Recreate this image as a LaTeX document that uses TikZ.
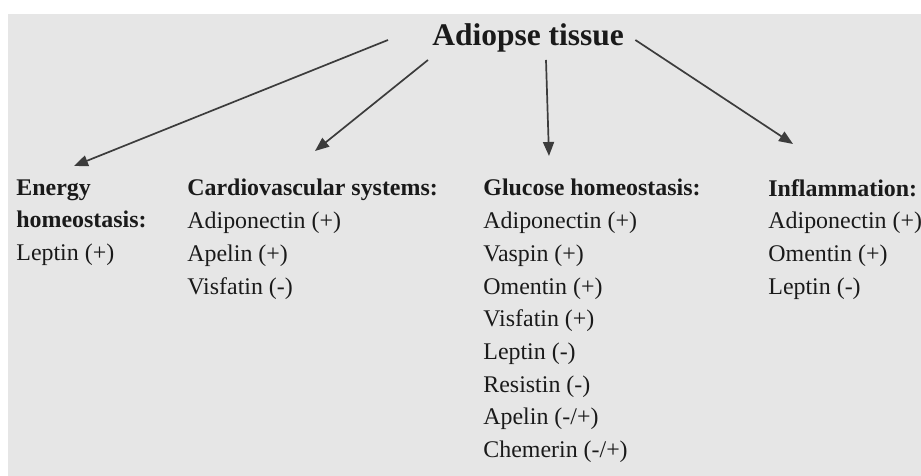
\documentclass[tikz,border=0pt]{standalone}
\usepackage{fontspec}
\setmainfont{Liberation Serif}
\usepackage{tikz}
\usetikzlibrary{arrows.meta, positioning, calc}
\usepackage{xcolor}
\definecolor{Paper}{HTML}{E6E6E6}
\definecolor{Ink}{HTML}{1A1A1A}
\definecolor{Shaft}{HTML}{3C3C3C}

\begin{document}
\begin{tikzpicture}[x=0.5bp, y=0.5bp,
  col/.style={anchor=north west, align=left, inner sep=0pt, text=Ink,
    font=\fontsize{12}{16.4}\selectfont},
  arr/.style={-{Triangle[length=7bp, width=5.5bp]}, line width=0.85bp, Shaft}]
  \useasboundingbox (0,0) rectangle (921,476);
  \fill[Paper] (8,0) rectangle (921,462);

  \node[anchor=base west, inner sep=0pt, text=Ink,
    font=\fontsize{15.8}{19}\selectfont\bfseries] (adipose) at (432,430) {Adiopse tissue};

  \node[col] (energy) at (16,297) {\textbf{Energy}\\\textbf{homeostasis:}\\Leptin (+)};
  \node[col] (cardio) at (187,297) {\textbf{Cardiovascular systems:}\\Adiponectin (+)\\
    Apelin (+)\\Visfatin (-)};
  \node[col] (glucose) at (483,297) {\textbf{Glucose homeostasis:}\\Adiponectin (+)\\
    Vaspin (+)\\Omentin (+)\\Visfatin (+)\\Leptin (-)\\Resistin (-)\\Apelin (-/+)\\
    Chemerin (-/+)};
  \node[col] (inflam) at (768,297) {\textbf{Inflammation:}\\Adiponectin (+)\\
    Omentin (+)\\Leptin (-)};

  \draw[arr] ($(adipose.base west)+(-44,6)$) -- ($(energy.north west)+(58,13)$);
  \draw[arr] ($(adipose.base west)+(-4,-14)$) -- ($(cardio.north west)+(128,28)$);
  \draw[arr] ($(adipose.base west)+(114,-14)$) -- ($(glucose.north west)+(66,23)$);
  \draw[arr] ($(adipose.base east)+(11,6)$) -- ($(inflam.north west)+(25,35)$);
\end{tikzpicture}
\end{document}
